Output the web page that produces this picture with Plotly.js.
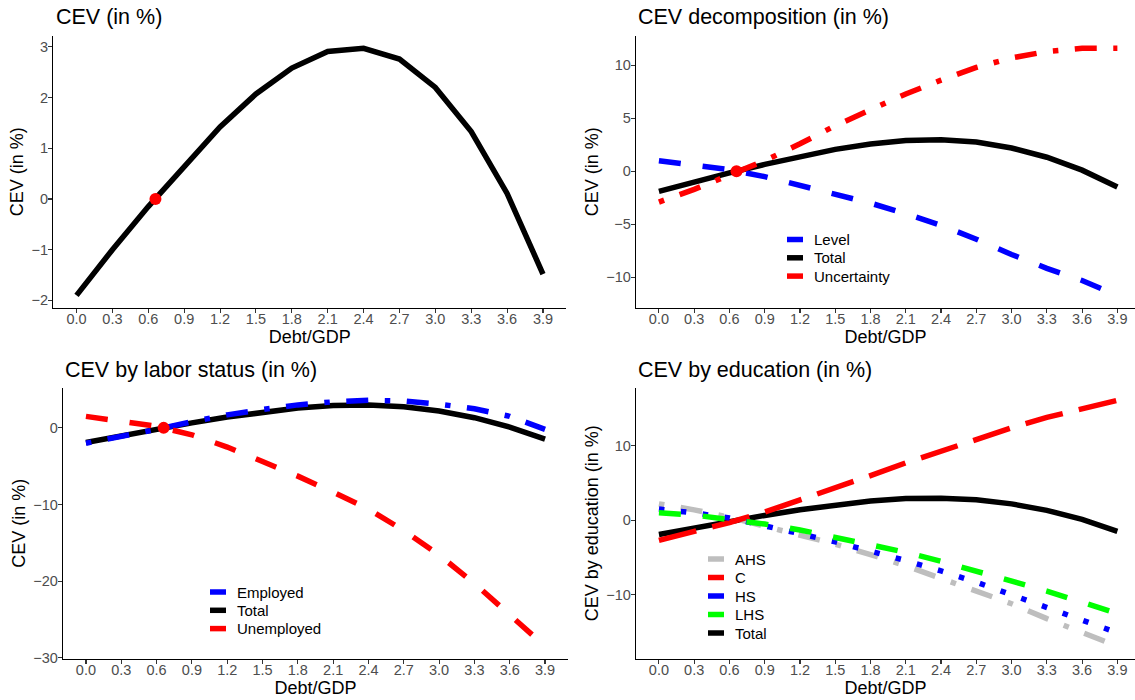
<!DOCTYPE html>
<html>
<head>
<meta charset="utf-8">
<script src="https://cdn.plot.ly/plotly-3.0.1.min.js"></script>
<style>
  html, body { margin: 0; padding: 0; background: #ffffff; }
  #chart { width: 1135px; height: 700px; }
</style>
</head>
<body>
<div id="chart"></div>
<script>
// ---------------- data ----------------
const debtGDP = [0.0, 0.3, 0.6, 0.9, 1.2, 1.5, 1.8, 2.1, 2.4, 2.7, 3.0, 3.3, 3.6, 3.9];
const xTickLabels = ['0.0','0.3','0.6','0.9','1.2','1.5','1.8','2.1','2.4','2.7','3.0','3.3','3.6','3.9'];

const total = [-1.9, -1.0, -0.15, 0.65, 1.42, 2.07, 2.58, 2.91, 2.97, 2.76, 2.2, 1.33, 0.11, -1.48];

const level = [1.0, 0.6, 0.15, -0.5, -1.3, -2.1, -3.0, -4.0, -5.1, -6.4, -7.85, -9.15, -10.3, -11.7];
const uncertainty = [-2.9, -1.7, -0.35, 1.0, 2.6, 4.3, 5.8, 7.3, 8.6, 9.8, 10.7, 11.3, 11.6, 11.6];

const employed = [-2.0, -1.15, -0.2, 0.8, 1.7, 2.4, 3.0, 3.4, 3.6, 3.5, 3.1, 2.5, 1.5, -0.2];
const unemployed = [1.5, 0.9, 0.2, -0.9, -2.5, -4.4, -6.3, -8.4, -10.6, -13.4, -16.6, -20.3, -24.3, -28.5];

const eduAHS = [2.2, 1.4, 0.4, -0.8, -2.0, -3.2, -4.6, -6.1, -7.8, -9.5, -11.2, -13.2, -15.1, -16.9];
const eduC   = [-2.7, -1.5, -0.3, 1.1, 2.7, 4.4, 6.0, 7.7, 9.3, 10.9, 12.4, 13.8, 15.0, 16.1];
const eduHS  = [1.5, 1.0, 0.3, -0.7, -1.8, -2.9, -4.1, -5.4, -6.8, -8.3, -10.0, -11.7, -13.4, -15.1];
const eduLHS = [1.0, 0.7, 0.1, -0.5, -1.3, -2.3, -3.2, -4.3, -5.5, -6.8, -8.1, -9.5, -11.0, -12.5];

const baselineX = [0.66];
const baselineY = [0];

const yTicks1 = [-2, -1, 0, 1, 2, 3];
const yTicks2 = [-10, -5, 0, 5, 10];
const yTicks3 = [-30, -20, -10, 0];
const yTicks4 = [-10, 0, 10];

const titles = ['CEV (in %)', 'CEV decomposition (in %)', 'CEV by labor status (in %)', 'CEV by education (in %)'];

const legendDecomp = ['Level', 'Total', 'Uncertainty'];
const legendLabor  = ['Employed', 'Total', 'Unemployed'];
const legendEdu    = ['AHS', 'C', 'HS', 'LHS', 'Total'];

// ---------------- style ----------------
const FONT = 'Liberation Sans, Arial, Helvetica, sans-serif';
const LW = 5.5;
const u = LW;
const DASHED   = (4*u)+'px,'+(4*u)+'px';
const DOTDASH  = (1*u)+'px,'+(3*u)+'px,'+(4*u)+'px,'+(3*u)+'px';
const LONGDASH = (7*u)+'px,'+(3*u)+'px';
const DOTTED   = (1*u)+'px,'+(3*u)+'px';
const GREY = '#bebebe', RED = '#ff0000', BLUE = '#0000ff', GREEN = '#00ff00', BLACK = '#000000';
const colorOf = { Total: BLACK, Level: BLUE, Uncertainty: RED, Employed: BLUE, Unemployed: RED,
                  AHS: GREY, C: RED, HS: BLUE, LHS: GREEN };

function expand(arrs) {
  let mn = Infinity, mx = -Infinity;
  arrs.forEach(a => a.forEach(v => { if (v < mn) mn = v; if (v > mx) mx = v; }));
  const p = 0.05 * (mx - mn);
  return [mn - p, mx + p];
}

function line(x, y, name, dash, ax) {
  return { x: x, y: y, type: 'scatter', mode: 'lines', name: name, showlegend: false,
    line: { color: colorOf[name], width: LW, dash: dash }, xaxis: 'x' + ax, yaxis: 'y' + ax,
    hoverinfo: 'skip' };
}
function dot(ax) {
  return { x: baselineX, y: baselineY, type: 'scatter', mode: 'markers', showlegend: false,
    marker: { color: RED, size: 12 }, xaxis: 'x' + ax, yaxis: 'y' + ax };
}

const traces = [
  // panel 1
  line(debtGDP, total, 'Total', 'solid', ''),
  dot(''),
  // panel 2
  line(debtGDP, total, 'Total', 'solid', '2'),
  line(debtGDP, level, 'Level', DASHED, '2'),
  line(debtGDP, uncertainty, 'Uncertainty', DOTDASH, '2'),
  dot('2'),
  // panel 3
  line(debtGDP, total, 'Total', 'solid', '3'),
  line(debtGDP, employed, 'Employed', DOTDASH, '3'),
  line(debtGDP, unemployed, 'Unemployed', DASHED, '3'),
  dot('3'),
  // panel 4
  line(debtGDP, total, 'Total', 'solid', '4'),
  line(debtGDP, eduAHS, 'AHS', DOTDASH, '4'),
  line(debtGDP, eduC, 'C', LONGDASH, '4'),
  line(debtGDP, eduHS, 'HS', DOTTED, '4'),
  line(debtGDP, eduLHS, 'LHS', DASHED, '4')
];

const W = 1135, H = 700;
const px = v => v / W;
const py = v => 1 - v / H;

function xax(domain, range, anchor) {
  return {
    domain: domain, range: range, anchor: anchor,
    tickmode: 'array', tickvals: debtGDP, ticktext: xTickLabels,
    ticks: 'outside', ticklen: 4, tickwidth: 1.1, tickcolor: '#333333',
    ticklabelstandoff: -6,
    showline: true, linecolor: '#000000', linewidth: 1.2,
    showgrid: false, zeroline: false,
    tickfont: { family: FONT, size: 14.5, color: '#4d4d4d' },
    title: { text: 'Debt/GDP', font: { family: FONT, size: 18, color: '#000000' }, standoff: 4 }
  };
}
function yax(domain, range, ticks, anchor, title) {
  return {
    domain: domain, range: range, anchor: anchor,
    tickmode: 'array', tickvals: ticks,
    ticks: 'outside', ticklen: 4, tickwidth: 1.1, tickcolor: '#333333',
    ticklabelstandoff: -3,
    showline: true, linecolor: '#000000', linewidth: 1.2,
    showgrid: false, zeroline: false,
    tickfont: { family: FONT, size: 14.5, color: '#4d4d4d' },
    title: { text: title, font: { family: FONT, size: 18, color: '#000000' }, standoff: 3 }
  };
}

const row1 = [py(307.7), py(36)];
const row2 = [py(658.5), py(388)];
const col1a = [px(53.2), px(566.3)];
const col1b = [px(63), px(568)];
const col2 = [px(636), 1];

const titleY = [17, 370];
const titleX = [54, 636, 62.5, 636];
const annotations = titles.map((t, i) => ({
  text: t, xref: 'paper', yref: 'paper', showarrow: false,
  x: px(titleX[i]), y: py(titleY[i < 2 ? 0 : 1]), xanchor: 'left', yanchor: 'middle',
  font: { family: FONT, size: 21.5, color: '#000000' }
}));

// manual legends (short solid keys as in the reference)
const shapes = [];
function addLegend(names, keyX, textX, firstRow, rowGap) {
  names.forEach((n, i) => {
    const yy = py(firstRow + i * rowGap);
    shapes.push({ type: 'line', xref: 'paper', yref: 'paper',
      x0: px(keyX), x1: px(keyX + 16), y0: yy, y1: yy,
      line: { color: colorOf[n], width: 5.5 } });
    annotations.push({ text: n, xref: 'paper', yref: 'paper', showarrow: false,
      x: px(textX - 1), y: yy, xanchor: 'left', yanchor: 'middle',
      font: { family: FONT, size: 15, color: '#000000' } });
  });
}
addLegend(legendDecomp, 787, 813, 239.5, 18.3);
addLegend(legendLabor, 210, 236, 592, 18.3);
addLegend(legendEdu, 708, 734, 559, 18.5);

const layout = {
  width: W, height: H,
  margin: { l: 0, r: 0, t: 0, b: 0 },
  paper_bgcolor: '#ffffff', plot_bgcolor: '#ffffff',
  font: { family: FONT },
  showlegend: false,
  xaxis:  xax(col1a, [-0.195, 4.095], 'y'),
  yaxis:  yax(row1, expand([total]), yTicks1, 'x', 'CEV (in %)'),
  xaxis2: xax(col2, [-0.195, 4.05], 'y2'),
  yaxis2: yax(row1, expand([total, level, uncertainty]), yTicks2, 'x2', 'CEV (in %)'),
  xaxis3: xax(col1b, [-0.195, 4.095], 'y3'),
  yaxis3: yax(row2, expand([total, employed, unemployed]), yTicks3, 'x3', 'CEV (in %)'),
  xaxis4: xax(col2, [-0.195, 4.05], 'y4'),
  yaxis4: yax(row2, expand([total, eduAHS, eduC, eduHS, eduLHS]), yTicks4, 'x4', 'CEV by education (in %)'),
  shapes: shapes,
  annotations: annotations
};

Plotly.newPlot('chart', traces, layout, { displayModeBar: false, staticPlot: true });
</script>
</body>
</html>
